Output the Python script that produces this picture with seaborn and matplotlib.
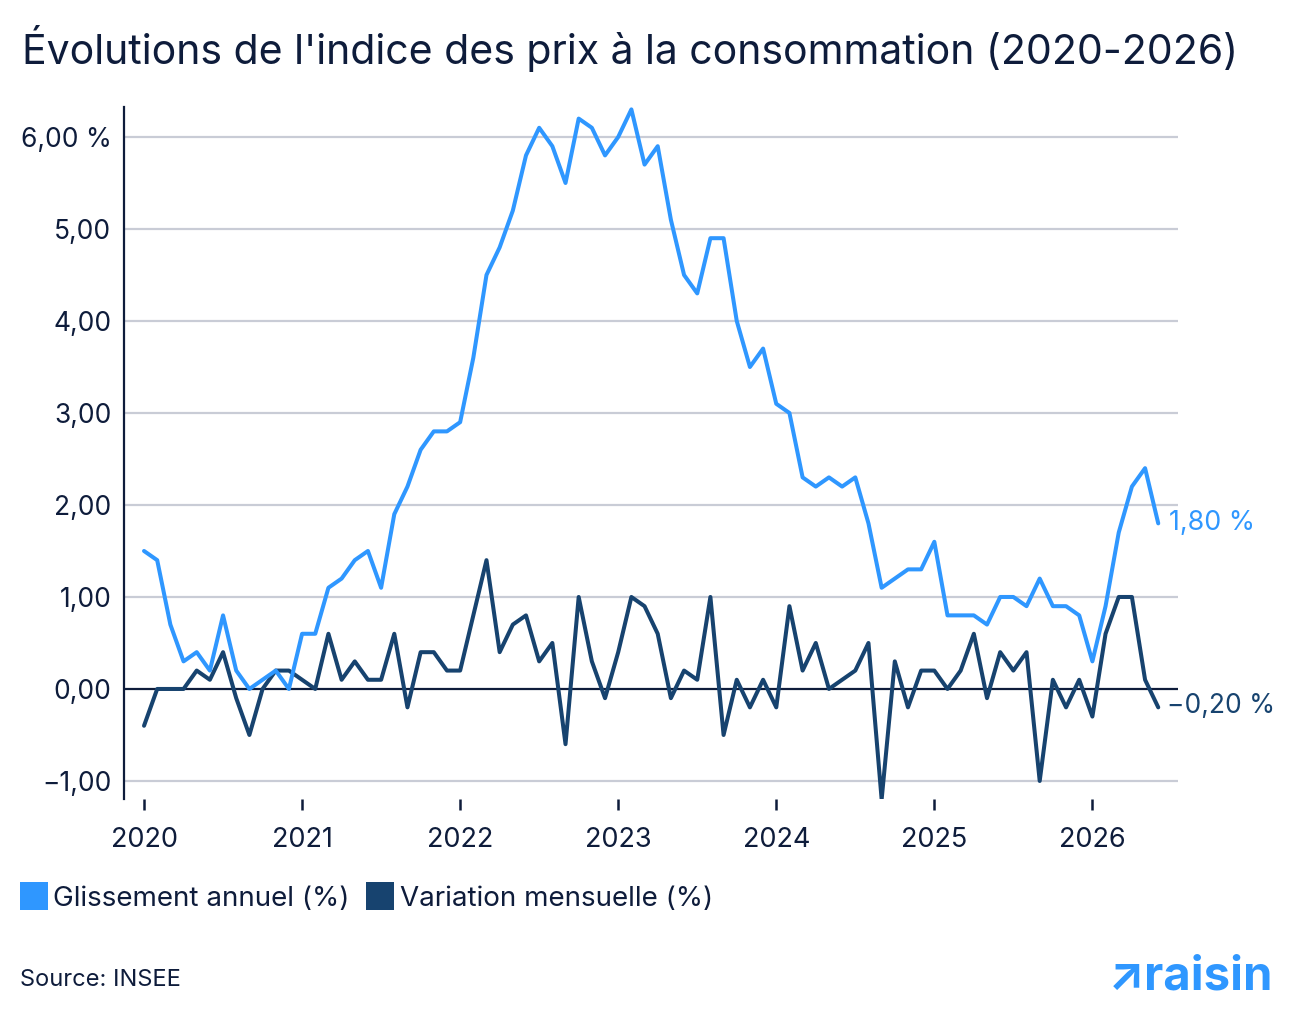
import matplotlib
matplotlib.use("Agg")
import matplotlib.pyplot as plt
from matplotlib.lines import Line2D
import seaborn as sns
import pandas as pd
import numpy as np

# ---- data ----
annual = [1.5, 1.4, 0.7, 0.3, 0.4, 0.2, 0.8, 0.2, 0.0, 0.1, 0.2, 0.0,
          0.6, 0.6, 1.1, 1.2, 1.4, 1.5, 1.1, 1.9, 2.2, 2.6, 2.8, 2.8,
          2.9, 3.6, 4.5, 4.8, 5.2, 5.8, 6.1, 5.9, 5.5, 6.2, 6.1, 5.8,
          6.0, 6.3, 5.7, 5.9, 5.1, 4.5, 4.3, 4.9, 4.9, 4.0, 3.5, 3.7,
          3.1, 3.0, 2.3, 2.2, 2.3, 2.2, 2.3, 1.8, 1.1, 1.2, 1.3, 1.3,
          1.6, 0.8, 0.8, 0.8, 0.7, 1.0, 1.0, 0.9, 1.2, 0.9, 0.9, 0.8,
          0.3, 0.9, 1.7, 2.2, 2.4, 1.8]
monthly = [-0.4, 0.0, 0.0, 0.0, 0.2, 0.1, 0.4, -0.1, -0.5, 0.0, 0.2, 0.2,
           0.1, 0.0, 0.6, 0.1, 0.3, 0.1, 0.1, 0.6, -0.2, 0.4, 0.4, 0.2,
           0.2, 0.8, 1.4, 0.4, 0.7, 0.8, 0.3, 0.5, -0.6, 1.0, 0.3, -0.1,
           0.4, 1.0, 0.9, 0.6, -0.1, 0.2, 0.1, 1.0, -0.5, 0.1, -0.2, 0.1,
           -0.2, 0.9, 0.2, 0.5, 0.0, 0.1, 0.2, 0.5, -1.2, 0.3, -0.2, 0.2,
           0.2, 0.0, 0.2, 0.6, -0.1, 0.4, 0.2, 0.4, -1.0, 0.1, -0.2, 0.1,
           -0.3, 0.6, 1.0, 1.0, 0.1, -0.2]
years = ["2020", "2021", "2022", "2023", "2024", "2025", "2026"]
yticks = [-1, 0, 1, 2, 3, 4, 5, 6]
ytick_labels = ["\u22121,00", "0,00", "1,00", "2,00", "3,00", "4,00", "5,00", "6,00 %"]
series_names = ["Glissement annuel (%)", "Variation mensuelle (%)"]

LIGHT = "#2f97ff"
NAVY = "#17436f"
TEXT = "#0e1c3b"
GRID = "#c9ccd6"

sns.set_theme(style="white")
plt.rcParams["font.family"] = ["Inter", "DejaVu Sans"]

n = len(annual)
df = pd.DataFrame({
    "month": list(range(n)) * 2,
    "value": annual + monthly,
    "serie": [series_names[0]] * n + [series_names[1]] * n,
})

fig = plt.figure(figsize=(12.92, 10.14), dpi=100)
ax = fig.add_axes([124 / 1292, 1 - 799 / 1014, (1178 - 124) / 1292, (799 - 107) / 1014])

for y in yticks:
    if y != 0:
        ax.axhline(y, color=GRID, lw=1.6, zorder=0)
ax.axhline(0, color=TEXT, lw=1.6, zorder=1)

sns.lineplot(data=df, x="month", y="value", hue="serie",
             palette={series_names[0]: LIGHT, series_names[1]: NAVY},
             hue_order=[series_names[1], series_names[0]],
             linewidth=2.9, ax=ax, legend=False, zorder=3)

ax.set_xlim(-1.52, 78.5)
ax.set_ylim(-1.196, 6.326)
ax.set_xticks([12 * i for i in range(len(years))])
ax.set_xticklabels(years)
ax.set_yticks(yticks)
ax.set_yticklabels(ytick_labels)
ax.set_xlabel("")
ax.set_ylabel("")
for s in ["top", "right", "bottom"]:
    ax.spines[s].set_visible(False)
ax.spines["left"].set_color(TEXT)
ax.spines["left"].set_linewidth(1.6)
ax.tick_params(axis="x", which="major", length=8, width=1.8, color=TEXT,
               labelsize=19.5, labelcolor=TEXT, pad=12, direction="out", bottom=True)
ax.tick_params(axis="y", which="major", length=0, labelsize=19, labelcolor=TEXT, pad=9)

# End labels
ax.annotate("1,80 %", xy=(n - 1, annual[-1]), xytext=(8, 0), textcoords="offset points",
            color=LIGHT, fontsize=19.3, va="center", ha="left")
ax.annotate("\u22120,20 %", xy=(n - 1, monthly[-1]), xytext=(6, 1), textcoords="offset points",
            color=NAVY, fontsize=19, va="center", ha="left")

# Title
fig.text(22 / 1292, 1 - 48 / 1014, "Évolutions de l'indice des prix à la consommation (2020-2026)",
         fontsize=29.5, color=TEXT, va="center", ha="left")

# Legend
handles = [Line2D([], [], marker="s", ls="", ms=20, color=c, markeredgewidth=0)
           for c in (LIGHT, NAVY)]
fig.legend(handles, series_names, loc="center left", bbox_to_anchor=(9 / 1292, 1 - 899 / 1014),
           ncol=2, frameon=False, fontsize=20, handletextpad=0.2, columnspacing=0.6,
           handlelength=1.0, labelcolor=TEXT, borderaxespad=0)

# Source & logo
fig.text(20 / 1292, 1 - 980 / 1014, "Source: INSEE", fontsize=17, color=TEXT,
         va="center", ha="left")
fig.text(1273 / 1292, 1 - 978 / 1014, "\u2197raisin", fontsize=34, color=LIGHT,
         fontweight="bold", va="center", ha="right")

fig.savefig("out.png", dpi=100)
